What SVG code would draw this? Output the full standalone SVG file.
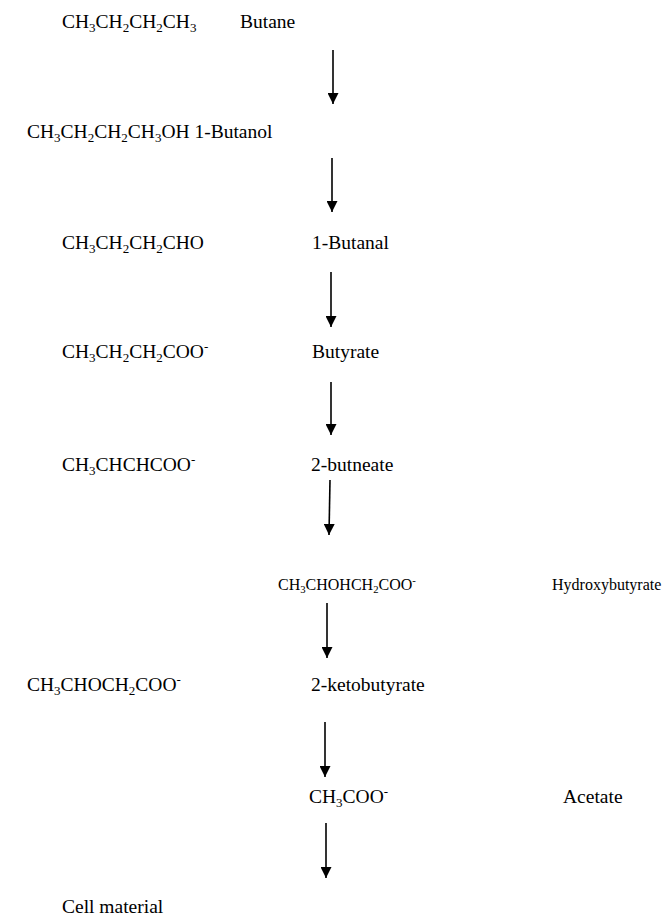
<svg xmlns="http://www.w3.org/2000/svg" width="662" height="916" viewBox="0 0 662 916">
<defs>
<style>
text{font-family:"Liberation Serif","Times New Roman",serif;font-size:19.5px;fill:#000}
.s{font-size:13px}
.m{font-size:16px}
.ms{font-size:10.7px}
.c line{stroke:#000;stroke-width:1.6}
</style>
<marker id="ah" markerWidth="11" markerHeight="11" refX="11" refY="5.5" orient="auto" markerUnits="userSpaceOnUse" viewBox="0 0 11 11">
<path d="M0,0 L11,5.5 L0,11 Z" fill="#000"/>
</marker>
</defs>
<rect width="662" height="916" fill="#fff"/>
<g id="n1"><text x="62" y="28">CH<tspan class="s" dy="4">3</tspan><tspan dy="-4">CH</tspan><tspan class="s" dy="4">2</tspan><tspan dy="-4">CH</tspan><tspan class="s" dy="4">2</tspan><tspan dy="-4">CH</tspan><tspan class="s" dy="4">3</tspan></text><text x="240" y="28">Butane</text></g>
<g id="n2"><text x="27" y="138">CH<tspan class="s" dy="4">3</tspan><tspan dy="-4">CH</tspan><tspan class="s" dy="4">2</tspan><tspan dy="-4">CH</tspan><tspan class="s" dy="4">2</tspan><tspan dy="-4">CH</tspan><tspan class="s" dy="4">3</tspan><tspan dy="-4">OH 1-Butanol</tspan></text></g>
<g id="n3"><text x="62" y="249">CH<tspan class="s" dy="4">3</tspan><tspan dy="-4">CH</tspan><tspan class="s" dy="4">2</tspan><tspan dy="-4">CH</tspan><tspan class="s" dy="4">2</tspan><tspan dy="-4">CHO</tspan></text><text x="312" y="249">1-Butanal</text></g>
<g id="n4"><text x="62" y="358">CH<tspan class="s" dy="4">3</tspan><tspan dy="-4">CH</tspan><tspan class="s" dy="4">2</tspan><tspan dy="-4">CH</tspan><tspan class="s" dy="4">2</tspan><tspan dy="-4">COO</tspan><tspan class="s" dy="-7">-</tspan></text><text x="312" y="358">Butyrate</text></g>
<g id="n5"><text x="62" y="471">CH<tspan class="s" dy="4">3</tspan><tspan dy="-4">CHCHCOO</tspan><tspan class="s" dy="-7">-</tspan></text><text x="311" y="471">2-butneate</text></g>
<g id="n6"><text class="m" x="278" y="590">CH<tspan class="ms" dy="3">3</tspan><tspan dy="-3">CHOHCH</tspan><tspan class="ms" dy="3">2</tspan><tspan dy="-3">COO</tspan><tspan class="ms" dy="-6">-</tspan></text><text class="m" x="552" y="590">Hydroxybutyrate</text></g>
<g id="n7"><text x="27" y="691">CH<tspan class="s" dy="4">3</tspan><tspan dy="-4">CHOCH</tspan><tspan class="s" dy="4">2</tspan><tspan dy="-4">COO</tspan><tspan class="s" dy="-7">-</tspan></text><text x="311" y="691">2-ketobutyrate</text></g>
<g id="n8"><text x="309" y="803">CH<tspan class="s" dy="4">3</tspan><tspan dy="-4">COO</tspan><tspan class="s" dy="-7">-</tspan></text><text x="563" y="803">Acetate</text></g>
<g id="n9"><text x="62" y="913">Cell material</text></g>
<g id="connectors" class="c">
<line x1="333" y1="50" x2="333" y2="104" marker-end="url(#ah)"/>
<line x1="332" y1="158" x2="332" y2="212" marker-end="url(#ah)"/>
<line x1="331" y1="272" x2="331" y2="327" marker-end="url(#ah)"/>
<line x1="331" y1="382" x2="331" y2="435" marker-end="url(#ah)"/>
<line x1="330" y1="480" x2="329" y2="535" marker-end="url(#ah)"/>
<line x1="327" y1="603" x2="327" y2="658" marker-end="url(#ah)"/>
<line x1="325" y1="722" x2="325" y2="777" marker-end="url(#ah)"/>
<line x1="326" y1="823" x2="326" y2="878" marker-end="url(#ah)"/>
</g>
</svg>
